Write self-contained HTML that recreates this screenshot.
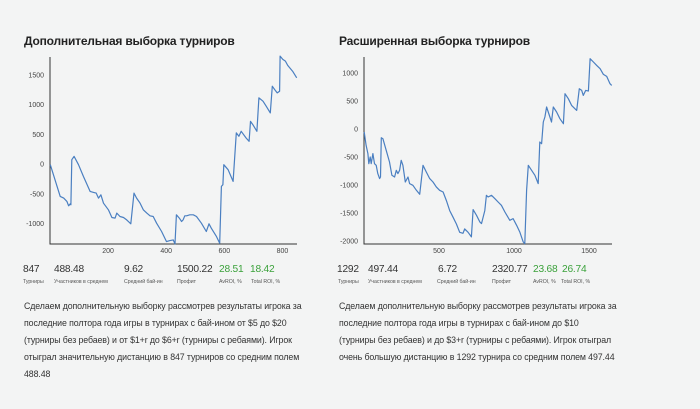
<!DOCTYPE html>
<html><head><meta charset="utf-8"><style>
body{margin:0;width:700px;height:409px;background:#f3f4f4;font-family:"Liberation Sans","Noto Sans CJK SC",sans-serif;color:#333;position:relative;overflow:hidden}
.t{position:absolute;font-weight:bold;font-size:12px;letter-spacing:-0.2px;color:#222;top:34px}
.n{position:absolute;top:264px;font-size:10.2px;letter-spacing:-0.2px;color:#333}
.g{color:#3aa13a}
.l{position:absolute;top:279px;font-size:5.2px;color:#555;white-space:nowrap}
.p{position:absolute;top:298px;width:320px;font-size:8.8px;letter-spacing:-0.1px;line-height:17px;color:#333;white-space:nowrap}
svg{position:absolute;left:0;top:0}
</style></head><body>
<div class="t" style="left:24px">Дополнительная выборка турниров</div>
<div class="t" style="left:339px">Расширенная выборка турниров</div>
<svg width="700" height="260" id="s"></svg>

<div>
<span class="n" style="left:23px">847</span><span class="n" style="left:54px">488.48</span><span class="n" style="left:124px">9.62</span><span class="n" style="left:177px">1500.22</span><span class="n g" style="left:219px">28.51</span><span class="n g" style="left:250px">18.42</span>
<span class="l" style="left:23px">Турниры</span><span class="l" style="left:54px">Участников в среднем</span><span class="l" style="left:124px">Средний бай-ин</span><span class="l" style="left:177px">Профит</span><span class="l" style="left:219px">AvROI, %</span><span class="l" style="left:251px">Total ROI, %</span>
</div>
<div>
<span class="n" style="left:337px">1292</span><span class="n" style="left:368px">497.44</span><span class="n" style="left:438px">6.72</span><span class="n" style="left:492px">2320.77</span><span class="n g" style="left:533px">23.68</span><span class="n g" style="left:562px">26.74</span>
<span class="l" style="left:338px">Турниры</span><span class="l" style="left:368px">Участников в среднем</span><span class="l" style="left:437px">Средний бай-ин</span><span class="l" style="left:492px">Профит</span><span class="l" style="left:533px">AvROI, %</span><span class="l" style="left:561px">Total ROI, %</span>
</div>
<div class="p" style="left:24px">Сделаем дополнительную выборку рассмотрев результаты игрока за<br>последние полтора года игры в турнирах с бай-ином от $5 до $20<br>(турниры без ребаев) и от $1+r до $6+r (турниры с ребаями). Игрок<br>отыграл значительную дистанцию в 847 турниров со средним полем<br>488.48</div>
<div class="p" style="left:339px">Сделаем дополнительную выборку рассмотрев результаты игрока за<br>последние полтора года игры в турнирах с бай-ином до $10<br>(турниры без ребаев) и до $3+r (турниры с ребаями). Игрок отыграл<br>очень большую дистанцию в 1292 турнира со средним полем 497.44</div>

<script>
const x1 = [1,35,47,58,64,70,72,75,83,98,115,138,150,159,167,175,184,201,213,224,230,241,253,264,278,289,298,310,321,333,344,355,367,384,401,413,424,430,435,445,453,458,464,470,481,493,504,521,538,547,555,573,584,590,595,598,613,630,641,650,658,675,685,690,698,712,719,733,744,758,765,773,782,790,792,801,810,818,835,849];
const y1 = [-11,-545,-573,-629,-703,-669,-686,73,129,-11,-208,-461,-478,-489,-573,-517,-658,-770,-899,-910,-826,-882,-899,-939,-1006,-489,-573,-658,-770,-826,-871,-882,-995,-1135,-1304,-1287,-1276,-1343,-854,-910,-967,-939,-871,-871,-854,-854,-882,-995,-1135,-1006,-1079,-1220,-1332,-377,-348,-11,-96,-292,523,466,551,438,382,719,663,551,1113,1057,972,860,1309,1253,1197,1225,1815,1759,1731,1658,1562,1450];
const x2 = [1,14,26,32,41,48,59,70,81,92,104,110,115,126,148,170,186,204,215,226,237,248,259,275,293,304,326,349,371,393,415,438,460,482,504,527,549,571,594,616,638,660,671,694,716,727,750,772,783,805,816,827,850,872,894,916,939,972,994,1017,1039,1061,1072,1084,1095,1117,1139,1161,1172,1184,1195,1206,1217,1239,1250,1262,1284,1306,1329,1340,1362,1384,1406,1418,1435,1451,1462,1478,1496,1507,1529,1551,1574,1596,1618,1640,1651];
const y2 = [-54,-292,-440,-619,-500,-619,-440,-619,-649,-797,-886,-857,-155,-173,-381,-589,-827,-857,-738,-797,-738,-559,-649,-946,-857,-976,-1006,-1095,-1166,-649,-768,-886,-946,-1035,-1095,-1125,-1279,-1458,-1577,-1696,-1845,-1863,-1785,-1845,-1928,-1440,-1541,-1660,-1690,-1458,-1184,-1214,-1184,-1244,-1303,-1363,-1482,-1630,-1601,-1720,-1845,-2017,-2047,-1095,-649,-738,-827,-976,-232,-262,125,214,393,214,125,393,303,184,95,631,541,422,363,333,720,690,601,690,678,1255,1196,1136,1077,976,940,809,779];
const ticks1x = [200,400,600,800], ticks1y = [1500,1000,500,0,-500,-1000];
const ticks2x = [500,1000,1500], ticks2y = [1000,500,0,-500,-1000,-1500,-2000];
const s = document.getElementById('s'), NS = 'http://www.w3.org/2000/svg';
function el(t, a, p){const e=document.createElementNS(NS,t);for(const k in a)e.setAttribute(k,a[k]);(p||s).appendChild(e);return e;}
function chart(name, xs, ys, tx, ty, L, R, T, B, xmin, xmax, ymin, ymax){
  const g = el('g', {});
  
  
  const X = v => L + (v - xmin) / (xmax - xmin) * (R - L);
  const Y = v => B - (v - ymin) / (ymax - ymin) * (B - T);
  const ax = el('path', {d:`M${L},${T}V${B}H${R}`, fill:'none', stroke:'#333', 'stroke-width':1}, g);
  
  
  tx.forEach(v => { const t = el('text', {x:X(v), y:B+9, 'font-size':7, 'text-anchor':'middle', fill:'#444'}, g); t.textContent = v;
    
     });
  ty.forEach(v => { const t = el('text', {x:L-6, y:Y(v)+2.5, 'font-size':7, 'text-anchor':'end', fill:'#444'}, g); t.textContent = v;
    
     });
  const n = Math.min(xs.length, ys.length);
  let d = '';
  for (let i = 0; i < n; i++) d += (i?'L':'M') + X(xs[i]).toFixed(1) + ',' + Y(ys[i]).toFixed(1);
  const ln = el('path', {d, fill:'none', stroke:'#4a7fc1', 'stroke-width':1.2, 'stroke-linejoin':'round'}, g);
  
  
}
chart('left-chart', x1, y1, ticks1x, ticks1y, 50, 297, 57, 244, 0, 850, -1345, 1800);
chart('right-chart', x2, y2, ticks2x, ticks2y, 364, 612, 57, 244, 0, 1653, -2054, 1286);
</script>
</body></html>
